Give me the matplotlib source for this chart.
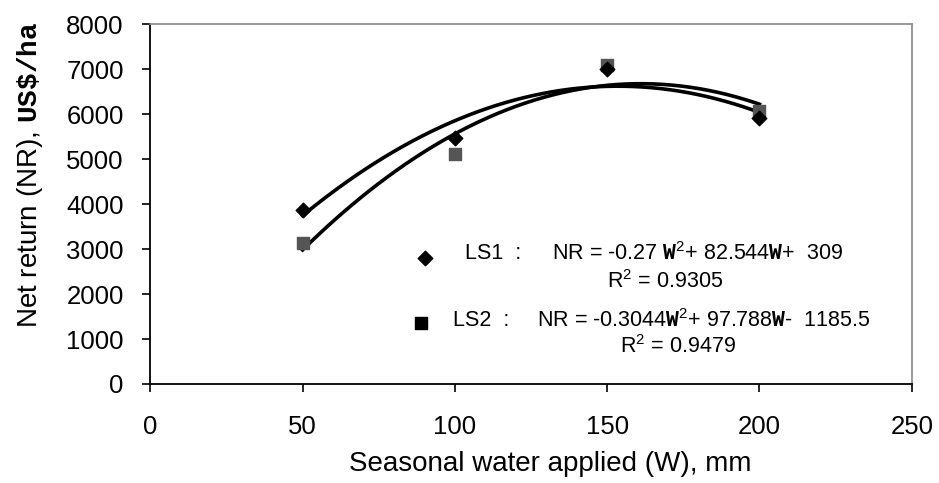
import matplotlib
matplotlib.use("Agg")
import matplotlib.pyplot as plt
import numpy as np

plt.rcParams['font.family'] = ['Liberation Sans', 'DejaVu Sans']
plt.rcParams['mathtext.fontset'] = 'custom'
plt.rcParams['mathtext.rm'] = 'Liberation Sans'
plt.rcParams['mathtext.tt'] = 'Liberation Mono:bold'

# data
water = [50, 100, 150, 200]
ls1 = [3870, 5470, 7000, 5910]
ls2 = [3130, 5110, 7090, 6070]
xticks = [0, 50, 100, 150, 200, 250]
yticks = [0, 1000, 2000, 3000, 4000, 5000, 6000, 7000, 8000]

fig = plt.figure(figsize=(9.39, 4.83), dpi=100)
ax = fig.add_axes([0.160, 0.205, 0.811, 0.745])

# quadratic trend lines fitted to the points
w = np.linspace(min(water), max(water), 200)
p1 = np.polyfit(water, ls1, 2)
p2 = np.polyfit(water, ls2, 2)
ax.plot(w, np.polyval(p1, w), color='black', lw=2.6, zorder=2)
ax.plot(w, np.polyval(p2, w), color='black', lw=2.6, zorder=2)

ax.scatter(water, ls2, marker='s', s=70, color='#555555', zorder=3)
ax.scatter(water, ls1, marker='D', s=55, color='black', zorder=4)

ax.set_xlim(0, 250)
ax.set_ylim(0, 8000)
ax.set_xticks(xticks)
ax.set_yticks(yticks)
ax.tick_params(direction='out', length=6, width=1.2, labelsize=18.5,
               colors='black')
ax.tick_params(axis='y', pad=13)
ax.tick_params(axis='x', pad=16)
for s in ['top', 'right']:
    ax.spines[s].set_color('#888888')
    ax.spines[s].set_linewidth(1.2)
for s in ['left', 'bottom']:
    ax.spines[s].set_linewidth(1.3)

ax.set_xlabel('Seasonal water applied (W), mm', fontsize=20)
ax.set_ylabel(r'Net return (NR), $\mathtt{US\$/ha}$', fontsize=20)
ax.xaxis.set_label_coords(0.525, -0.185)
ax.yaxis.set_label_coords(-0.138, 0.58)

# equation block
fs = 15.5
ax.scatter([90.2], [2800], marker='D', s=55, color='black', clip_on=False)
ax.scatter([88.9], [1356], marker='s', s=70, color='black', clip_on=False)
ax.text(103.3, 2911, 'LS1  :', fontsize=fs, va='center')
ax.text(131.9, 2911, r'NR = -0.27 $\mathtt{W}^2$+ 82.544$\mathtt{W}$+  309',
        fontsize=fs, va='center')
ax.text(169, 2267, r'R$^2$ = 0.9305', fontsize=fs, va='center', ha='center')
ax.text(99.4, 1420, 'LS2  :', fontsize=fs, va='center')
ax.text(127, 1420, r'NR = -0.3044$\mathtt{W}^2$+ 97.788$\mathtt{W}$-  1185.5',
        fontsize=fs, va='center')
ax.text(173.2, 822, r'R$^2$ = 0.9479', fontsize=fs, va='center', ha='center')

fig.savefig('out.png', dpi=100)
